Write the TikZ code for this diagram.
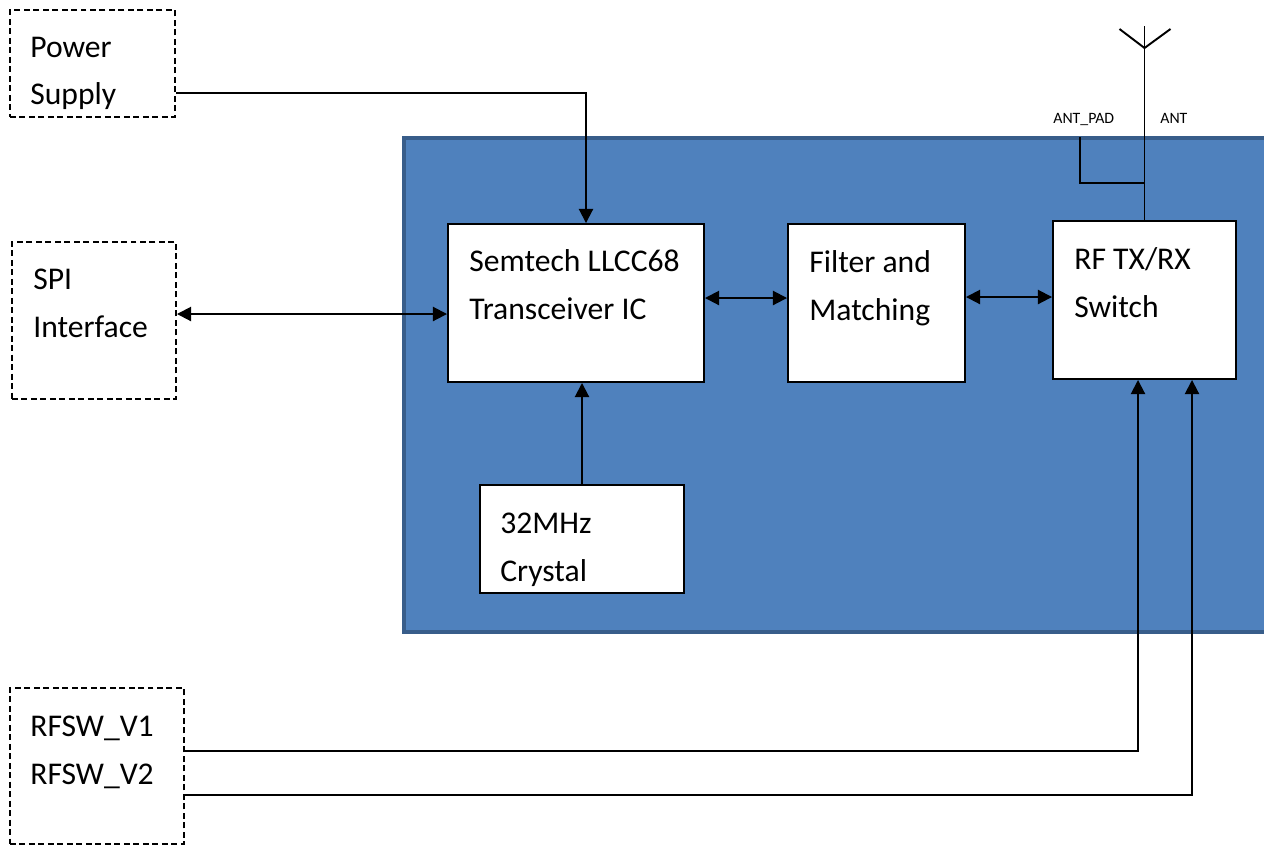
\documentclass[tikz,border=0pt]{standalone}
\usepackage{fontspec}
\setmainfont{Carlito}
\usetikzlibrary{arrows.meta}
\definecolor{boardfill}{HTML}{4F81BD}
\definecolor{boardline}{HTML}{385D8A}

\begin{document}
\begin{tikzpicture}[x=0.02cm,y=-0.02cm,
  font=\fontsize{18}{27.2}\selectfont,
  blk/.style 2 args={draw,line width=1.1pt,fill=white,inner sep=0pt,
    minimum width=#1*0.02cm,minimum height=#2*0.02cm},
  ext/.style 2 args={blk={#1}{#2},dash pattern=on 3.4pt off 2pt},
  txt/.style={anchor=west,align=left,inner sep=0pt},
  small/.style={font=\fontsize{9}{10}\selectfont,anchor=base west,inner sep=0pt},
  lnk/.style={line width=1.1pt},
  arr/.style={lnk,-{Triangle[length=8pt,width=8pt]}},
  darr/.style={lnk,{Triangle[length=8pt,width=8pt]}-{Triangle[length=8pt,width=8pt]}}]

\useasboundingbox (0,0) rectangle (1264,846);

% module board
\draw[boardline,fill=boardfill,line width=2.8pt] (404,138) rectangle (1272,632);

% blocks
\node[ext={165}{107}] (pwr) at (92.5,63.5) {};
\node[ext={164}{157}] (spi) at (94,320.5) {};
\node[ext={174}{156}] (rfsw) at (97,766) {};
\node[blk={256}{158}] (ic) at (576,303) {};
\node[blk={177}{158}] (filt) at (876.5,303) {};
\node[blk={183}{158}] (sw) at (1144.5,300) {};
\node[blk={204}{108}] (xtal) at (582,539) {};

\node[txt] (pwrtxt) at (30,73.5) {Power\\Supply};
\node[txt] (spitxt) at (33,303) {SPI\\Interface};
\node[txt] (rfswtxt) at (30,752) {RFSW\_V1\\RFSW\_V2};
\node[txt] (ictxt) at (469,285) {Semtech LLCC68\\Transceiver IC};
\node[txt] (filttxt) at (809,288) {Filter and\\Matching};
\node[txt] (swtxt) at (1074,283) {RF TX/RX\\Switch};
\node[txt] (xtaltxt) at (500,549.5) {32MHz\\Crystal};

% connections
\draw[arr] (pwr.east |- 0,93) -| ([xshift=0.2cm]ic.north);
\draw[darr] (spi.east |- 0,314) -- (ic.west |- 0,314);
\draw[darr] (ic.east |- 0,298) -- (filt.west |- 0,298);
\draw[darr] (filt.east |- 0,297) -- (sw.west |- 0,297);
\draw[arr] (xtal.north) -- (xtal.north |- ic.south);
\draw[arr] (rfsw.east |- 0,751) -| (sw.south -| 1138,0);
\draw[arr] (rfsw.east |- 0,795) -| (sw.south -| 1192,0);

% antenna
\coordinate (anttop) at (sw.north |- 0,26);
\coordinate (antfeed) at (sw.north |- 0,48);
\coordinate (pad) at (1080,137);
\draw[lnk] (sw.north) -- (anttop);
\draw[lnk] ([shift={(-25,-19)}]antfeed) -- (antfeed) -- ++(26,-19);
\draw[lnk] (pad) |- (sw.north |- 0,183);
\node[small] (padlbl) at (1053,123) {ANT\_PAD};
\node[small] (antlbl) at (1160,123) {ANT};
\end{tikzpicture}
\end{document}
